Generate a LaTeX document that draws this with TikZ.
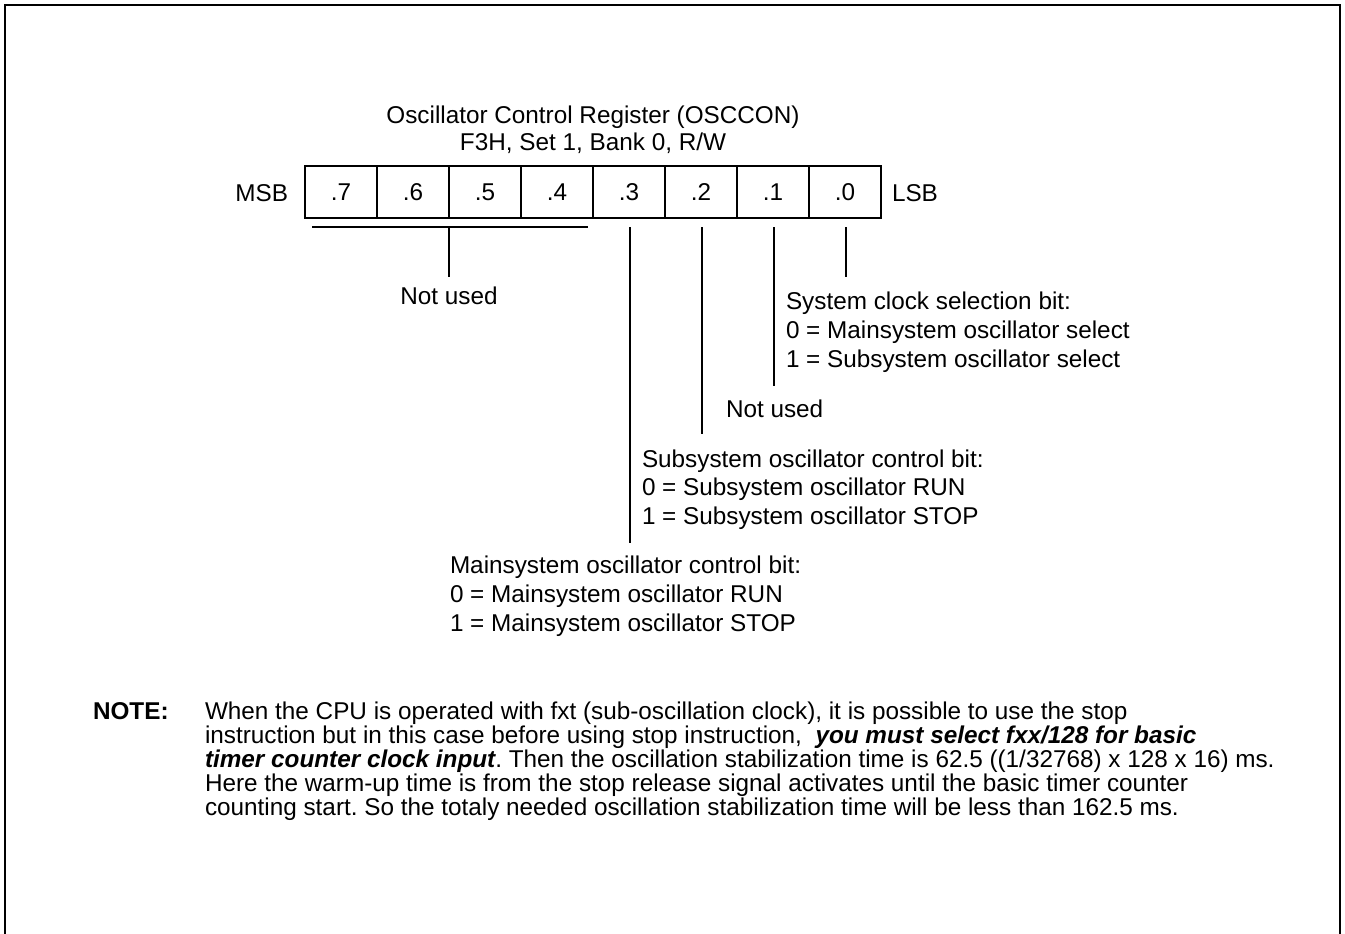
\documentclass[tikz,border=0pt]{standalone}
\usepackage{fontspec}
\setmainfont{Liberation Sans}
\frenchspacing
\begin{document}
\begin{tikzpicture}[x=1pt,y=-1pt,
  every node/.style={inner sep=0pt, outer sep=0pt, font=\fontsize{24.3}{29}\selectfont},
  cell/.style={draw, line width=1.3pt, minimum width=72pt, minimum height=52pt, text height=17pt, text depth=0pt},
  lbl/.style={anchor=base west},
  ln/.style={line width=1.3pt},
  frame/.style={line width=2.5pt, line join=miter}]
\useasboundingbox (0,0) rectangle (1345,934);
% outer frame (open at the bottom)
\draw[frame] (5,940) -- (5,5) -- (1340,5) -- (1340,940);

% title
\node[anchor=base] (t1) at (593,123) {Oscillator Control Register (OSCCON)};
\node[anchor=base] (t2) at (593,150) {F3H, Set 1, Bank 0, R/W};

% register cells
\foreach \b [count=\i from 0] in {7,6,5,4,3,2,1,0}
  \node[cell] (b\b) at (341+72*\i,192) {.\b};
\node[anchor=base east] (msb) at (288,201) {MSB};
\node[anchor=base west] (lsb) at (892,201) {LSB};

% bracket for bits 7-4
\coordinate (bl) at (312,227);
\coordinate (br) at (588,227);
\coordinate (bm) at (449,227);
\coordinate (bme) at (449,277);
\draw[ln] (bl) -- (br);
\draw[ln] (bm) -- (bme);
\node[anchor=base] (nu74) at (449,304) {Not used};

% bit lines
\coordinate (e3) at (630,543);
\coordinate (e2) at (702,434);
\coordinate (e1) at (774,386);
\coordinate (e0) at (846,277);
\draw[ln] (b3.south -| e3) ++(0,9) -- (e3);
\draw[ln] (b2.south -| e2) ++(0,9) -- (e2);
\draw[ln] (b1.south -| e1) ++(0,9) -- (e1);
\draw[ln] (b0.south -| e0) ++(0,9) -- (e0);

% bit 0 label
\node[lbl] (s0a) at (786,309) {System clock selection bit:};
\node[lbl] (s0b) at (786,338) {0 = Mainsystem oscillator select};
\node[lbl] (s0c) at (786,367) {1 = Subsystem oscillator select};
% bit 1 label
\node[lbl] (s1) at (726,417) {Not used};
% bit 2 label
\node[lbl] (s2a) at (642,467) {Subsystem oscillator control bit:};
\node[lbl] (s2b) at (642,495.5) {0 = Subsystem oscillator RUN};
\node[lbl] (s2c) at (642,524) {1 = Subsystem oscillator STOP};
% bit 3 label
\node[lbl] (s3a) at (450,573) {Mainsystem oscillator control bit:};
\node[lbl] (s3b) at (450,602) {0 = Mainsystem oscillator RUN};
\node[lbl] (s3c) at (450,631) {1 = Mainsystem oscillator STOP};

% note
\node[lbl, font=\fontsize{24.3}{29}\selectfont\bfseries] (note) at (93,719) {NOTE:};
\node[lbl] (n1) at (205,719) {When the CPU is operated with fxt (sub-oscillation clock), it is possible to use the stop};
\node[lbl] (n2) at (205,743) {instruction but in this case before using stop instruction,~ {\bfseries\itshape you must select fxx/128 for basic}};
\node[lbl] (n3) at (205,767) {{\bfseries\itshape timer counter clock input}. Then the oscillation stabilization time is 62.5 ((1/32768) x 128 x 16) ms.};
\node[lbl] (n4) at (205,791) {Here the warm-up time is from the stop release signal activates until the basic timer counter};
\node[lbl] (n5) at (205,815) {counting start. So the totaly needed oscillation stabilization time will be less than 162.5 ms.};
\end{tikzpicture}
\end{document}
